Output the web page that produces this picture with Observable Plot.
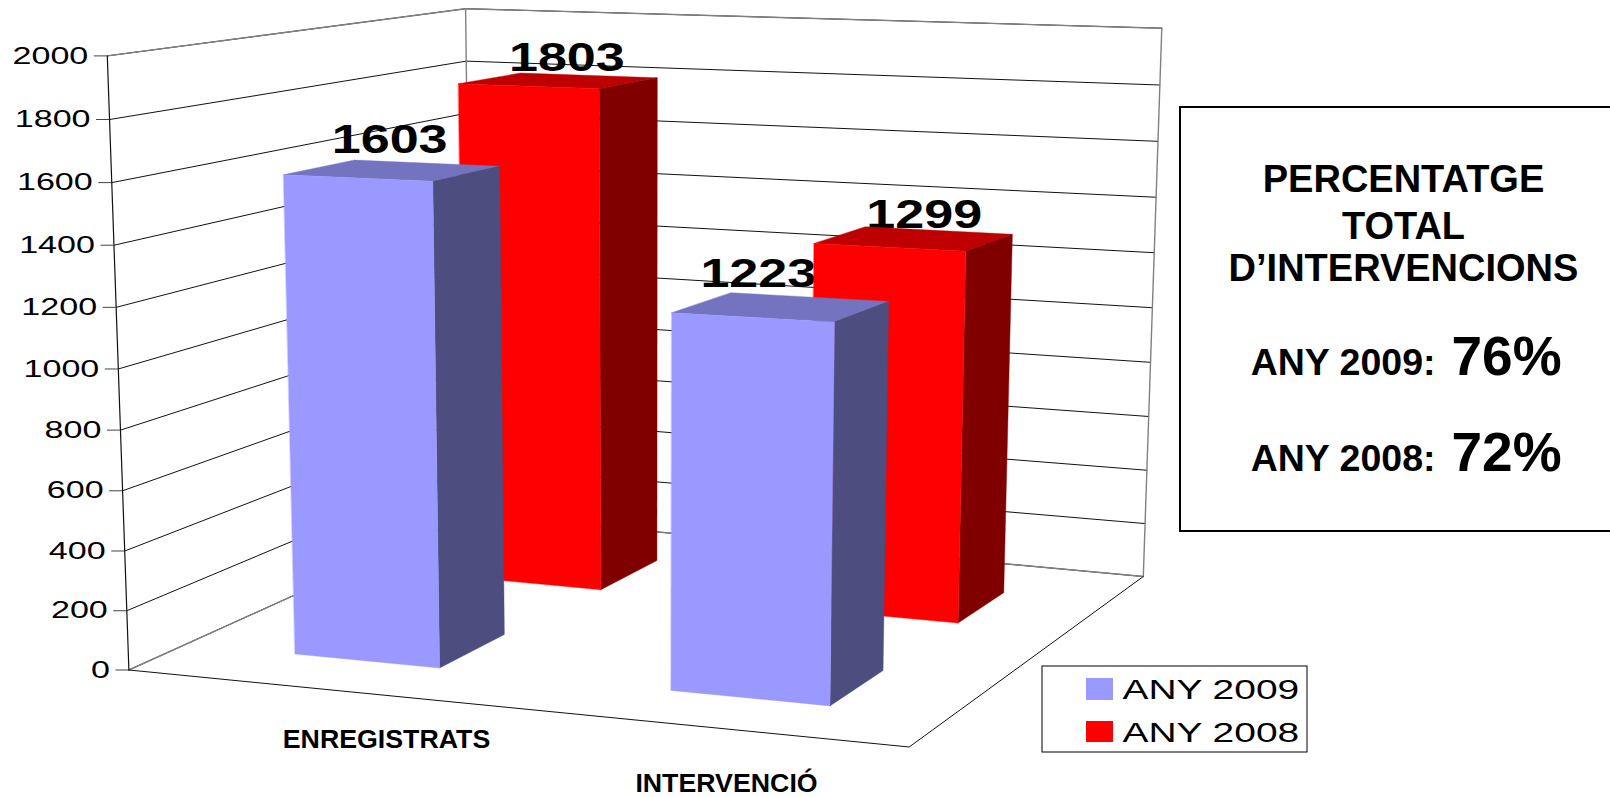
<!DOCTYPE html>
<html>
<head>
<meta charset="utf-8">
<script src="https://cdn.jsdelivr.net/npm/d3@7"></script>
<script src="https://cdn.jsdelivr.net/npm/@observablehq/plot@0.6"></script>
<style>html,body{margin:0;padding:0;background:#fff;overflow:hidden}svg{display:block}</style>
</head>
<body>
<div id="chart"></div>
<script>
const categories = ["ENREGISTRATS", "INTERVENCIÓ"];
const seriesNames = ["ANY 2009", "ANY 2008"];
const values2009 = [1603, 1223];
const values2008 = [1803, 1299];
const yTicks = [0, 200, 400, 600, 800, 1000, 1200, 1400, 1600, 1800, 2000];
const boxLines = ["PERCENTATGE", "TOTAL", "D’INTERVENCIONS"];
const boxYears = ["ANY 2009:", "ANY 2008:"];
const boxPercents = ["76%", "72%"];

// perspective frame of the 3D box (unit cube -> page), corners: front-left, front-right, back-right, back-left
const floorC = [[128.4,669.5],[908.7,746.5],[1142.8,576],[471.3,514.4]];
const roofC  = [[106.8,55.4],[920,81],[1161.3,27.7],[465.1,8.2]];
const weights = [1/598,1/659,1/534,1/493];
const vMax = 2000, bend = 0.04;
function blend(cs,u,v){
  const b=[(1-u)*(1-v),u*(1-v),u*v,(1-u)*v];
  let d=0,x=0,y=0;
  b.forEach((k,i)=>{const w=k*weights[i];d+=w;x+=w*cs[i][0];y+=w*cs[i][1];});
  return [x/d,y/d];
}
function project(u,v,val){
  const w=val/vMax, t=w/(1+bend*(1-w));
  const a=blend(floorC,u,v), b=blend(roofC,u,v);
  return {x:a[0]+(b[0]-a[0])*t, y:a[1]+(b[1]-a[1])*t};
}
// footprint of each series inside a category, as fractions of the floor
const catStep = {"ANY 2009":0.503,"ANY 2008":0.495};
const seriesU = {"ANY 2009":[0.153,0.352],"ANY 2008":[0.164,0.364]};
const seriesV = {"ANY 2009":[0.145,0.335],"ANY 2008":[0.62,0.82]};
const palette = {
  "ANY 2009":{front:"#9999FF",side:"#4D4D80",top:"#7373BF"},
  "ANY 2008":{front:"#FF0000",side:"#800000",top:"#BF0000"}
};
function faces(series,i,val){
  const [u0,u1]=seriesU[series].map(u=>u+i*catStep[series]), [v0,v1]=seriesV[series];
  const c=palette[series];
  return [
    {fill:c.top,pts:[project(u0,v0,val),project(u1,v0,val),project(u1,v1,val),project(u0,v1,val)]},
    {fill:c.side,pts:[project(u1,v0,0),project(u1,v1,0),project(u1,v1,val),project(u1,v0,val)]},
    {fill:c.front,pts:[project(u0,v0,0),project(u1,v0,0),project(u1,v0,val),project(u0,v0,val)]}
  ];
}
const allFaces = [
  ...values2008.flatMap((v,i)=>faces("ANY 2008",i,v)),
  ...values2009.flatMap((v,i)=>faces("ANY 2009",i,v))
];
const faceMarks = allFaces.map(f=>Plot.line(f.pts,{x:"x",y:"y",fill:f.fill,stroke:f.fill,strokeWidth:0.4,curve:"linear-closed"}));

// walls
const gridRows = yTicks.flatMap(t=>[
  {k:"g"+t,...project(0,0,t)},{k:"g"+t,...project(0,1,t)},{k:"g"+t,...project(1,1,t)}
]);
const frontAxis = [project(0,0,0),project(0,0,vMax)];
const backEdges = [
  {k:"l",...project(0,1,0)},{k:"l",...project(0,1,vMax)},
  {k:"r",...project(1,1,0)},{k:"r",...project(1,1,vMax)}
];
const floorEdge = [project(0,0,0),project(1,0,0),project(1,1,0)];
const tickLen = 13;
const tickRows = yTicks.map(t=>{const p=project(0,0,t);return {t,x1:p.x-tickLen,x2:p.x,y:p.y};});

// value labels: per-label nudge relative to the centre of the bar top
const valueLabels = [
  {s:"ANY 2009",i:0,v:values2009[0],dx:-3,dy:-17},
  {s:"ANY 2008",i:0,v:values2008[0],dx:8,dy:-10},
  {s:"ANY 2009",i:1,v:values2009[1],dx:-23,dy:-20},
  {s:"ANY 2008",i:1,v:values2008[1],dx:10,dy:-11}
].map(d=>{
  const u=d3.mean(seriesU[d.s])+d.i*catStep[d.s], v=d3.mean(seriesV[d.s]);
  const p=project(u,v,d.v);
  return {x:p.x+d.dx,y:p.y+d.dy,label:String(d.v)};
});
const sans="Liberation Sans, Arial, sans-serif";
const catRows = categories.map((c,i)=>({c,x:[386,726][i],y:[747,791][i]}));
const legendRows = seriesNames.map((s,i)=>({s,y1:[678,721][i],y2:[700,742][i],yt:[698,741][i]}));

const svg = Plot.plot({
  width:1610,height:797,margin:0,
  x:{domain:[0,1610],range:[0,1610],axis:null},
  y:{domain:[0,797],range:[0,797],axis:null},
  marks:[
    Plot.line(gridRows,{x:"x",y:"y",z:"k",stroke:"#111",strokeWidth:1,curve:"linear"}),
    Plot.line(backEdges,{x:"x",y:"y",z:"k",stroke:"#808080",strokeWidth:1.4}),
    Plot.line(yTicks.filter(t=>t===0||t===vMax).flatMap(t=>[
      {k:"e"+t,...project(0,0,t)},{k:"e"+t,...project(0,1,t)},{k:"e"+t,...project(1,1,t)}
    ]),{x:"x",y:"y",z:"k",stroke:"#808080",strokeWidth:1.4}),
    Plot.line(frontAxis,{x:"x",y:"y",stroke:"#111",strokeWidth:1.2}),
    Plot.line(floorEdge,{x:"x",y:"y",stroke:"#111",strokeWidth:1}),
    Plot.ruleY(tickRows,{y:"y",x1:"x1",x2:"x2",stroke:"#444",strokeWidth:1}),
    Plot.text(tickRows,{x:d=>d.x1-6,y:"y",text:d=>String(d.t),textAnchor:"end",fontSize:24,fontFamily:sans,fill:"#000",className:"wide-tick"}),
    Plot.text(valueLabels,{x:"x",y:"y",text:"label",textAnchor:"middle",lineAnchor:"bottom",fontSize:41,fontWeight:"bold",fontFamily:sans,fill:"#000",className:"wide-value"}),
    ...faceMarks,
    Plot.text(catRows,{x:"x",y:"y",text:"c",textAnchor:"middle",lineAnchor:"bottom",fontSize:25,fontWeight:"bold",fontFamily:sans,fill:"#000",className:"wide-cat"}),
    // side panel
    Plot.rect([{x1:1180,x2:1612,y1:107,y2:531}],{x1:"x1",x2:"x2",y1:"y1",y2:"y2",fill:"white",stroke:"#000",strokeWidth:2}),
    Plot.text(boxLines,{x:()=>1403,y:(d,i)=>[191,238,280][i],text:d=>d,textAnchor:"middle",lineAnchor:"bottom",fontSize:38,fontWeight:"bold",fontFamily:sans,fill:"#000"}),
    Plot.text(boxYears,{x:()=>1435,y:(d,i)=>[374,470][i],text:d=>d,textAnchor:"end",lineAnchor:"bottom",fontSize:37.5,fontWeight:"bold",fontFamily:sans,fill:"#000"}),
    Plot.text(boxPercents,{x:()=>1451,y:(d,i)=>[374,470][i],text:d=>d,textAnchor:"start",lineAnchor:"bottom",fontSize:55,fontWeight:"bold",fontFamily:sans,fill:"#000"}),
    // legend
    Plot.rect([{x1:1042,x2:1307,y1:666,y2:752}],{x1:"x1",x2:"x2",y1:"y1",y2:"y2",fill:"white",stroke:"#000",strokeWidth:1}),
    Plot.rect(legendRows,{x1:()=>1086,x2:()=>1113,y1:"y1",y2:"y2",fill:d=>palette[d.s].front}),
    Plot.text(legendRows,{x:()=>1122,y:"yt",text:"s",textAnchor:"start",lineAnchor:"bottom",fontSize:28,fontFamily:sans,fill:"#000",className:"wide-legend"})
  ]
});
const sel=d3.select(svg);
function stretch(cls,sx){
  sel.selectAll("."+cls+" text").attr("transform",function(){return (this.getAttribute("transform")||"")+` scale(${sx},1)`;});
}
stretch("wide-tick",1.42);stretch("wide-value",1.27);stretch("wide-legend",1.39);stretch("wide-cat",1.07);
document.getElementById("chart").appendChild(svg);
</script>
</body>
</html>
